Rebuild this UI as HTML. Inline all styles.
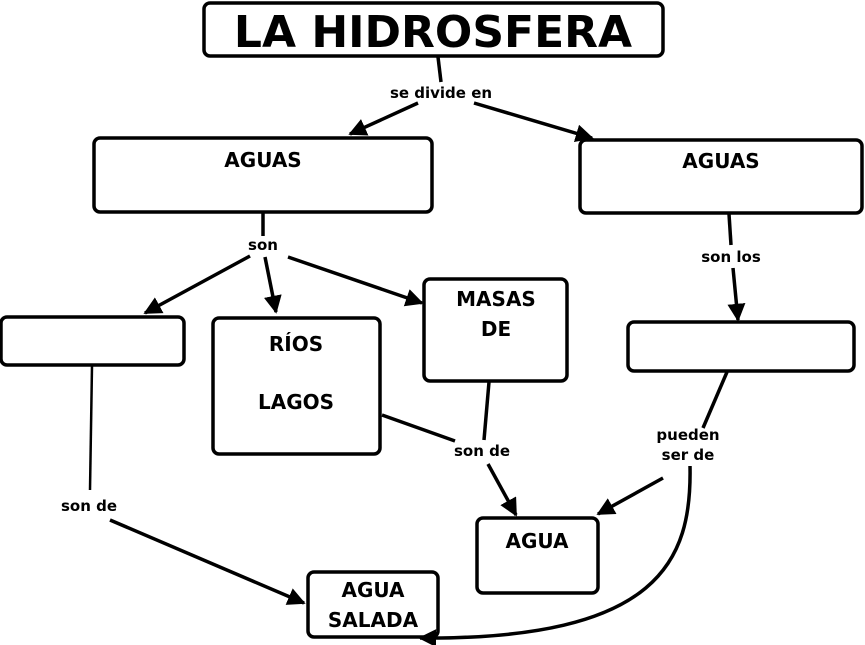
<!DOCTYPE html>
<html><head><meta charset="utf-8"><style>
body{margin:0;background:#fff;}
svg{display:block;font-family:"DejaVu Sans","Liberation Sans",sans-serif;font-weight:bold;}
</style></head><body>
<svg width="865" height="645" viewBox="0 0 865 645">
<defs><marker id="a" markerWidth="8" markerHeight="8" refX="7" refY="4" orient="auto" markerUnits="userSpaceOnUse" viewBox="0 0 8 8"><path d="M0,0 L8,4 L0,8 z" fill="#000"/></marker>
<marker id="b" viewBox="0 0 10 10" refX="9" refY="5" markerWidth="18" markerHeight="18" orient="auto" markerUnits="userSpaceOnUse"><path d="M0,0 L10,5 L0,10 z" fill="#000"/></marker></defs>
<g fill="#fff" stroke="#000" stroke-width="3.5">
<rect x="204" y="3" width="459" height="53" rx="6"/>
<rect x="94" y="138" width="338" height="74" rx="6"/>
<rect x="580" y="140" width="282" height="73" rx="6"/>
<rect x="1" y="317" width="183" height="48" rx="6"/>
<rect x="213" y="318" width="167" height="136" rx="6"/>
<rect x="424" y="279" width="143" height="102" rx="6"/>
<rect x="628" y="322" width="226" height="49" rx="6"/>
<rect x="477" y="518" width="121" height="75" rx="6"/>
<rect x="308" y="572" width="130" height="65" rx="6"/>
</g>
<g stroke="#000" stroke-width="3.5" fill="none">
<line x1="438" y1="57" x2="441" y2="82"/>
<line x1="418" y1="103" x2="350" y2="134" marker-end="url(#b)"/>
<line x1="474" y1="103" x2="592" y2="138" marker-end="url(#b)"/>
<line x1="263" y1="213" x2="263" y2="236"/>
<line x1="250" y1="256" x2="145" y2="313" marker-end="url(#b)"/>
<line x1="265" y1="257" x2="276" y2="312" marker-end="url(#b)"/>
<line x1="288" y1="257" x2="422" y2="303" marker-end="url(#b)"/>
<line x1="729" y1="214" x2="731" y2="245"/>
<line x1="733" y1="268" x2="738" y2="320" marker-end="url(#b)"/>
<line x1="92" y1="366" x2="90" y2="490" stroke-width="2.5"/>
<line x1="110" y1="520" x2="304" y2="603" marker-end="url(#b)"/>
<line x1="382" y1="415" x2="455" y2="441"/>
<line x1="489" y1="382" x2="484" y2="440"/>
<line x1="488" y1="464" x2="516" y2="515" marker-end="url(#b)"/>
<line x1="727" y1="372" x2="703" y2="428"/>
<line x1="663" y1="478" x2="598" y2="514" marker-end="url(#b)"/>
<path d="M690,466 C692,560 660,640 420,638" marker-end="url(#b)"/>
</g>
<g text-anchor="middle" fill="#000">
<text x="433" y="47" font-size="44">LA HIDROSFERA</text>
<text x="263" y="167" font-size="20">AGUAS</text>
<text x="721" y="168" font-size="20">AGUAS</text>
<text x="296" y="351" font-size="20">RÍOS</text>
<text x="296" y="409" font-size="20">LAGOS</text>
<text x="496" y="306" font-size="20">MASAS</text>
<text x="496" y="336" font-size="20">DE</text>
<text x="537" y="548" font-size="20">AGUA</text>
<text x="373" y="597" font-size="20">AGUA</text>
<text x="373" y="627" font-size="20">SALADA</text>
<text x="441" y="98" font-size="15">se divide en</text>
<text x="263" y="250" font-size="15">son</text>
<text x="731" y="262" font-size="15">son los</text>
<text x="482" y="456" font-size="15">son de</text>
<text x="688" y="440" font-size="15">pueden</text>
<text x="688" y="460" font-size="15">ser de</text>
<text x="89" y="511" font-size="15">son de</text>
</g>
</svg>
</body></html>
